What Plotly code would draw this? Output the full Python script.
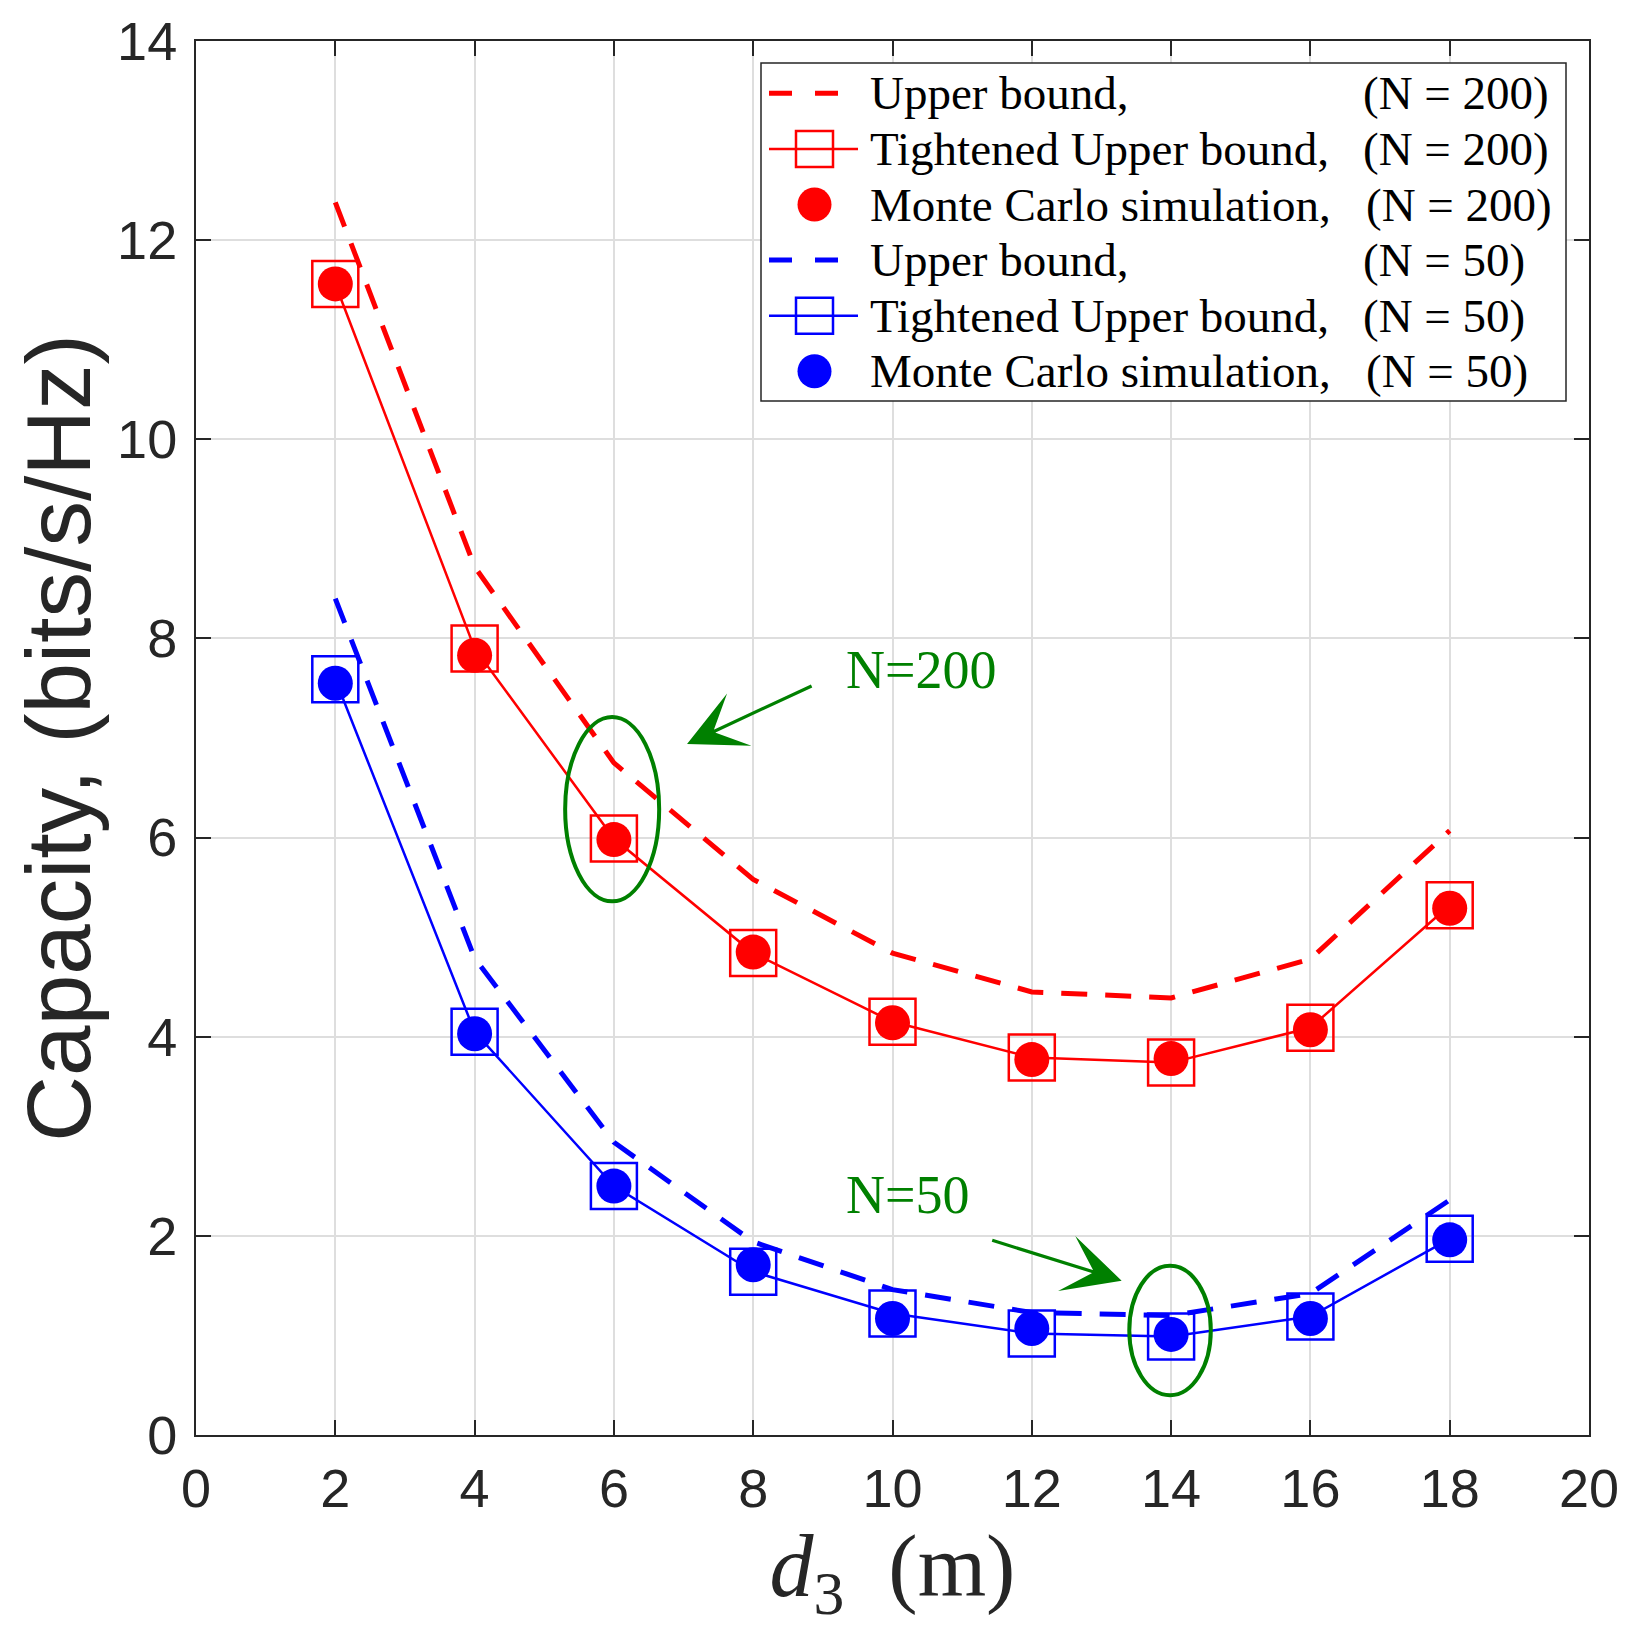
import plotly.graph_objects as go

# distance d3 (m)
d3 = [2, 4, 6, 8, 10, 12, 14, 16, 18]

# N = 200
ub_200 = [12.38, 8.72, 6.75, 5.58, 4.84, 4.45, 4.39, 4.78, 6.07]
tub_200 = [11.56, 7.90, 5.99, 4.84, 4.15, 3.79, 3.74, 4.09, 5.32]
mc_200 = [11.56, 7.83, 5.98, 4.85, 4.14, 3.77, 3.78, 4.07, 5.29]

# N = 50
ub_50 = [8.40, 4.79, 2.94, 1.94, 1.46, 1.23, 1.20, 1.42, 2.36]
tub_50 = [7.59, 4.05, 2.50, 1.64, 1.22, 1.02, 0.99, 1.19, 1.97]
mc_50 = [7.55, 4.03, 2.50, 1.71, 1.17, 1.07, 1.01, 1.17, 1.96]

legend_names = ["Upper bound,", "Tightened Upper bound,", "Monte Carlo simulation,"]
legend_n = ["(N = 200)", "(N = 50)"]

RED = "#ff0000"
BLUE = "#0000ff"
GREEN = "#008000"
AXC = "#262626"
SERIF = "Liberation Serif, DejaVu Serif, serif"
SANS = "Liberation Sans, Arial, sans-serif"
NB = "\u00a0"

# page has an 8px body margin, so the figure is a bit smaller than the window
W, H = 1633, 1627
L, R, T, B = 188, 52, 33, 200
# plot area in screenshot pixels
PX0, PX1, PY0, PY1 = 196, 1589, 41, 1435

def px(x):
    return (x - PX0) / (PX1 - PX0)

def py(y):
    return (PY1 - y) / (PY1 - PY0)

fig = go.Figure()

def add_group(ub, tub, mc, color):
    # dashed upper bound
    fig.add_trace(go.Scatter(
        x=d3, y=ub, mode="lines",
        line=dict(color=color, width=5, dash="26px,18px")))
    # tightened upper bound, line + open squares
    fig.add_trace(go.Scatter(
        x=d3, y=tub, mode="lines+markers",
        line=dict(color=color, width=2.5),
        marker=dict(symbol="square-open", size=46, color=color,
                    line=dict(width=2.5, color=color))))
    # monte carlo, filled circles
    fig.add_trace(go.Scatter(
        x=d3, y=mc, mode="markers",
        marker=dict(symbol="circle", size=35, color=color)))

add_group(ub_200, tub_200, mc_200, RED)
add_group(ub_50, tub_50, mc_50, BLUE)

# green ellipses
fig.add_shape(type="circle", xref="x", yref="y", x0=5.30, x1=6.65, y0=5.36, y1=7.21,
              line=dict(color=GREEN, width=4))
fig.add_shape(type="circle", xref="x", yref="y", x0=13.40, x1=14.57, y0=0.40, y1=1.70,
              line=dict(color=GREEN, width=4))

# arrows + labels
fig.add_annotation(x=7.05, y=6.94, ax=8.86, ay=7.53, xref="x", yref="y", axref="x", ayref="y",
                   text="", showarrow=True, arrowhead=3, arrowsize=3.0, arrowwidth=3.2,
                   arrowcolor=GREEN)
fig.add_annotation(x=13.29, y=1.55, ax=11.41, ay=1.96, xref="x", yref="y", axref="x", ayref="y",
                   text="", showarrow=True, arrowhead=3, arrowsize=3.0, arrowwidth=3.2,
                   arrowcolor=GREEN)
fig.add_annotation(x=10.41, y=7.68, text="N=200", showarrow=False,
                   font=dict(family=SERIF, size=54, color=GREEN))
fig.add_annotation(x=10.21, y=2.41, text="N=50", showarrow=False,
                   font=dict(family=SERIF, size=54, color=GREEN))

# hand-built legend (plotly caps legend marker size)
fig.add_shape(type="rect", xref="paper", yref="paper", layer="above",
              x0=px(761), x1=px(1566), y0=py(401), y1=py(63),
              fillcolor="white", line=dict(color=AXC, width=1.5))
row0, row_h = 93.3, 55.6
for gi, color in enumerate([RED, BLUE]):
    for k, name in enumerate(legend_names):
        i = gi * 3 + k
        yc = py(row0 + i * row_h)
        if k == 0:
            fig.add_shape(type="line", xref="paper", yref="paper", layer="above",
                          x0=px(769), x1=px(838), y0=yc, y1=yc,
                          line=dict(color=color, width=5, dash="23px,23px"))
        elif k == 1:
            fig.add_shape(type="line", xref="paper", yref="paper", layer="above",
                          x0=px(769), x1=px(858), y0=yc, y1=yc,
                          line=dict(color=color, width=2.5))
            fig.add_shape(type="rect", xref="paper", yref="paper", layer="above",
                          xsizemode="pixel", ysizemode="pixel",
                          xanchor=px(814.5), yanchor=yc,
                          x0=-18.5, x1=18.5, y0=-18, y1=18,
                          fillcolor="rgba(0,0,0,0)", line=dict(color=color, width=2.5))
        else:
            fig.add_shape(type="circle", xref="paper", yref="paper", layer="above",
                          xsizemode="pixel", ysizemode="pixel",
                          xanchor=px(814.5), yanchor=yc,
                          x0=-17, x1=17, y0=-17, y1=17,
                          fillcolor=color, line=dict(color=color, width=0))
        fig.add_annotation(xref="paper", yref="paper", x=px(868), y=yc,
                           xanchor="left", yanchor="middle", showarrow=False,
                           text=name, font=dict(family=SERIF, size=47, color="black"))
        fig.add_annotation(xref="paper", yref="paper", x=px(1364 if k == 2 else 1361), y=yc,
                           xanchor="left", yanchor="middle", showarrow=False,
                           text=legend_n[gi], font=dict(family=SERIF, size=47, color="black"))

axis_common = dict(
    showline=True, linecolor=AXC, linewidth=2, mirror="ticks",
    ticks="inside", ticklen=15, tickwidth=2, tickcolor=AXC,
    showgrid=True, gridcolor="#dedede", gridwidth=1.5, zeroline=False,
    tickfont=dict(family=SANS, size=54, color=AXC), automargin=False,
)

fig.update_xaxes(range=[0, 20], tickvals=list(range(0, 21, 2)),
                 title=dict(text="<i>d</i><sub>3</sub>" + NB * 2 + "(m)",
                            font=dict(family=SERIF, size=88, color=AXC), standoff=12),
                 ticklabelstandoff=5,
                 **axis_common)
fig.update_yaxes(range=[0, 14], tickvals=list(range(0, 15, 2)),
                 title=dict(text="Capacity," + NB + "(bits/s/Hz)",
                            font=dict(family=SANS, size=91, color=AXC), standoff=2),
                 ticklabelstandoff=6,
                 **axis_common)

fig.update_layout(
    width=W, height=H,
    margin=dict(l=L, r=R, t=T, b=B),
    plot_bgcolor="white", paper_bgcolor="white",
    showlegend=False,
)

fig.write_html("out.html")
